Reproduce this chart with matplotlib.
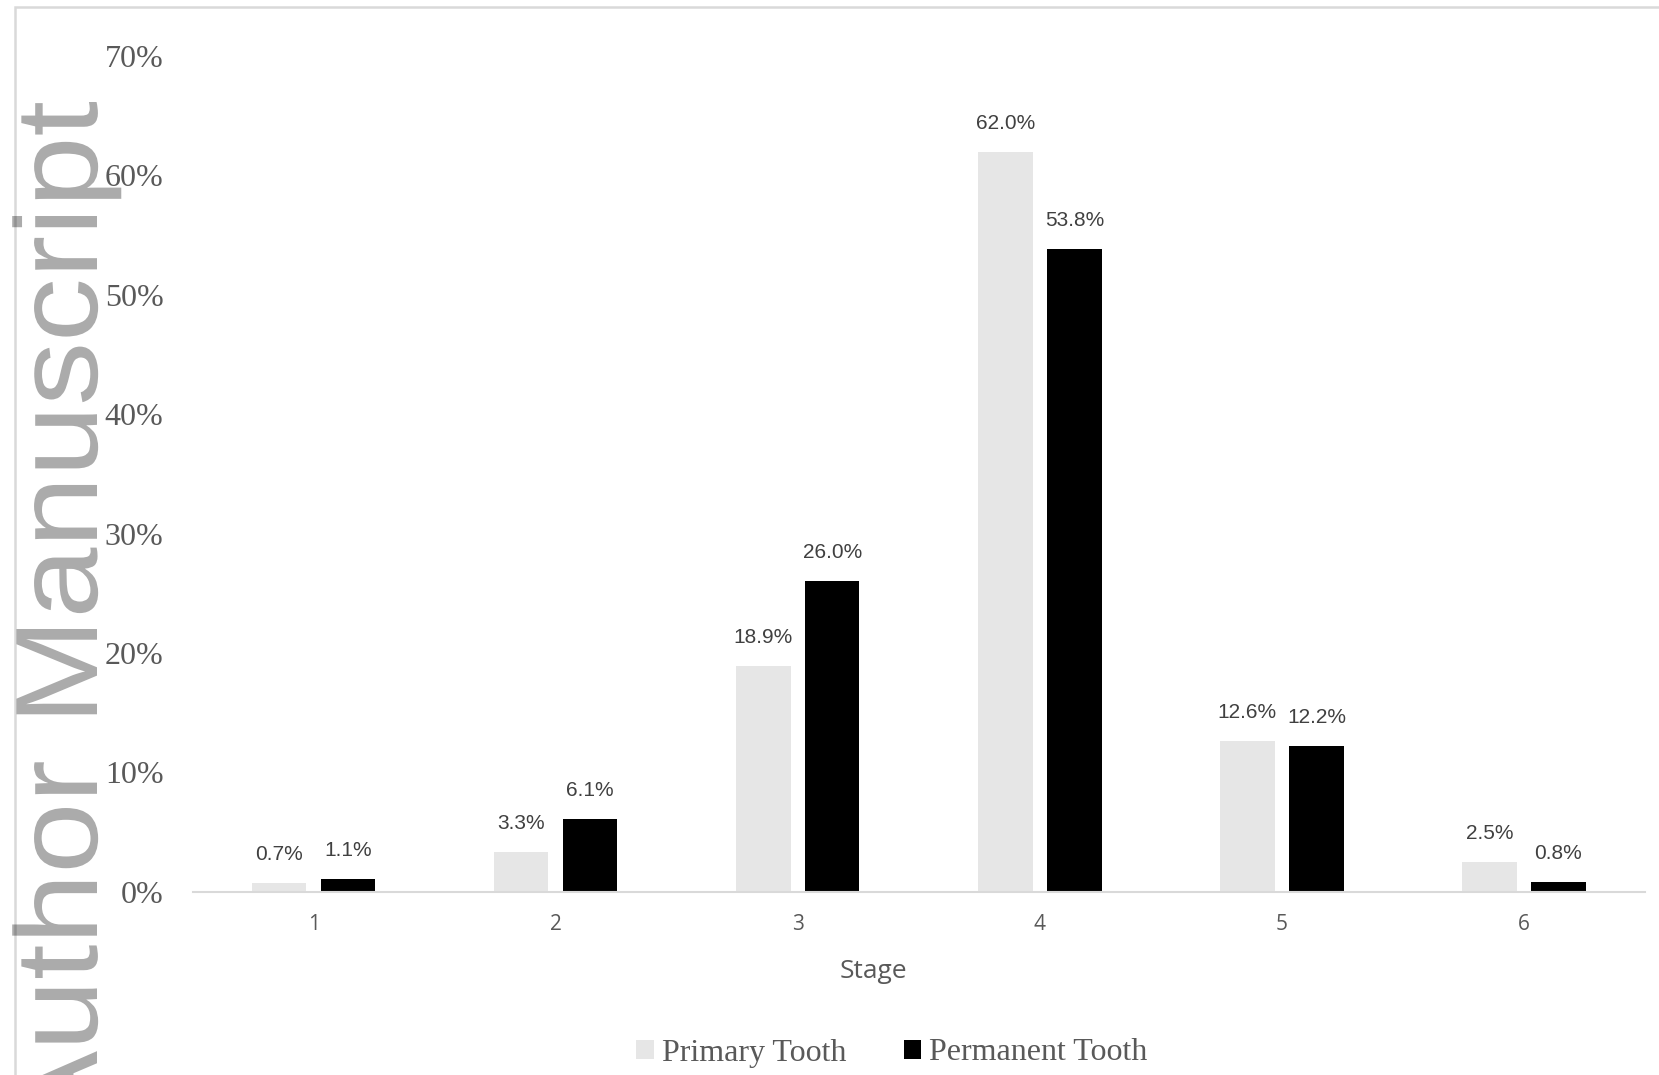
import matplotlib
matplotlib.use('Agg')
import matplotlib.pyplot as plt
from matplotlib.patches import Rectangle, PathPatch
from matplotlib.textpath import TextPath
from matplotlib.font_manager import FontProperties
from matplotlib.transforms import Affine2D
import numpy as np

# percentage of teeth at each stage
stages = ['1', '2', '3', '4', '5', '6']
primary = [0.7, 3.3, 18.9, 62.0, 12.6, 2.5]
permanent = [1.1, 6.1, 26.0, 53.8, 12.2, 0.8]
y_ticks = [0, 10, 20, 30, 40, 50, 60, 70]

W, H = 1659, 1075
fig = plt.figure(figsize=(W / 100, H / 100), dpi=100)

# light frame around the chart area
fig.patches.append(Rectangle((15 / W, -0.05), 1.1, 1 - 7 / H + 0.05,
                             transform=fig.transFigure, fill=False,
                             edgecolor='#d9d9d9', linewidth=1.8, zorder=-5))

ax = fig.add_axes([192.6 / W, (H - 891.7) / H, (1645 - 192.6) / W, (891.7 - 56) / H])
ax.patch.set_visible(False)

x = np.arange(1, len(stages) + 1)
w = 0.225
off = 0.1425
ax.bar(x - off, primary, w, color='#e6e6e6', label='Primary Tooth')
ax.bar(x + off, permanent, w, color='black', label='Permanent Tooth')

# value labels over the bars
for xs, vals in ((x - off, primary), (x + off, permanent)):
    for xi, v in zip(xs, vals):
        ax.annotate(f'{v:.1f}%', (xi, v), xytext=(0, 23), textcoords='offset pixels',
                    ha='center', va='baseline', fontsize=15,
                    family='Liberation Sans', color='#404040')

ax.set_xlim(0.5, 6.5)
ax.set_ylim(0, 70)
ax.set_xticks(x)
ax.set_xticklabels(stages, family='Open Sans', fontsize=15, color='#595959')
ax.set_yticks(y_ticks)
ax.set_yticklabels([f'{t}%' for t in y_ticks], family='Liberation Serif',
                   fontsize=23, color='#595959')
ax.tick_params(axis='both', length=0)
ax.tick_params(axis='x', pad=16)
ax.tick_params(axis='y', pad=21)
for s in ('top', 'right', 'left'):
    ax.spines[s].set_visible(False)
ax.spines['bottom'].set_color('#d9d9d9')
ax.spines['bottom'].set_linewidth(1.5)

fig.text(873 / W, 1 - 978 / H, 'Stage', ha='center', va='baseline',
         family='Open Sans', fontsize=19, color='#595959')

leg = fig.legend(loc='center', bbox_to_anchor=(892 / W, 1 - 1053 / H), ncol=2,
                 frameon=False, handlelength=0.55, handleheight=0.55,
                 handletextpad=0.25, columnspacing=1.8,
                 prop={'family': 'Liberation Serif', 'size': 23})
for t in leg.get_texts():
    t.set_color('#595959')

# vertical watermark down the left edge, slightly stretched along its length
wm = TextPath((0, 0), 'Author Manuscript', size=117,
              prop=FontProperties(family='Liberation Sans'))
stretch = 1.09
end = wm.get_extents().x1 * stretch
wm_tr = Affine2D().scale(stretch, 1).rotate_deg(90).translate(97, (H - 102) - end)
fig.add_artist(PathPatch(wm, transform=wm_tr, facecolor='black', edgecolor='none',
                         alpha=0.33, zorder=10))

fig.savefig('out.png', dpi=100, facecolor='white')
